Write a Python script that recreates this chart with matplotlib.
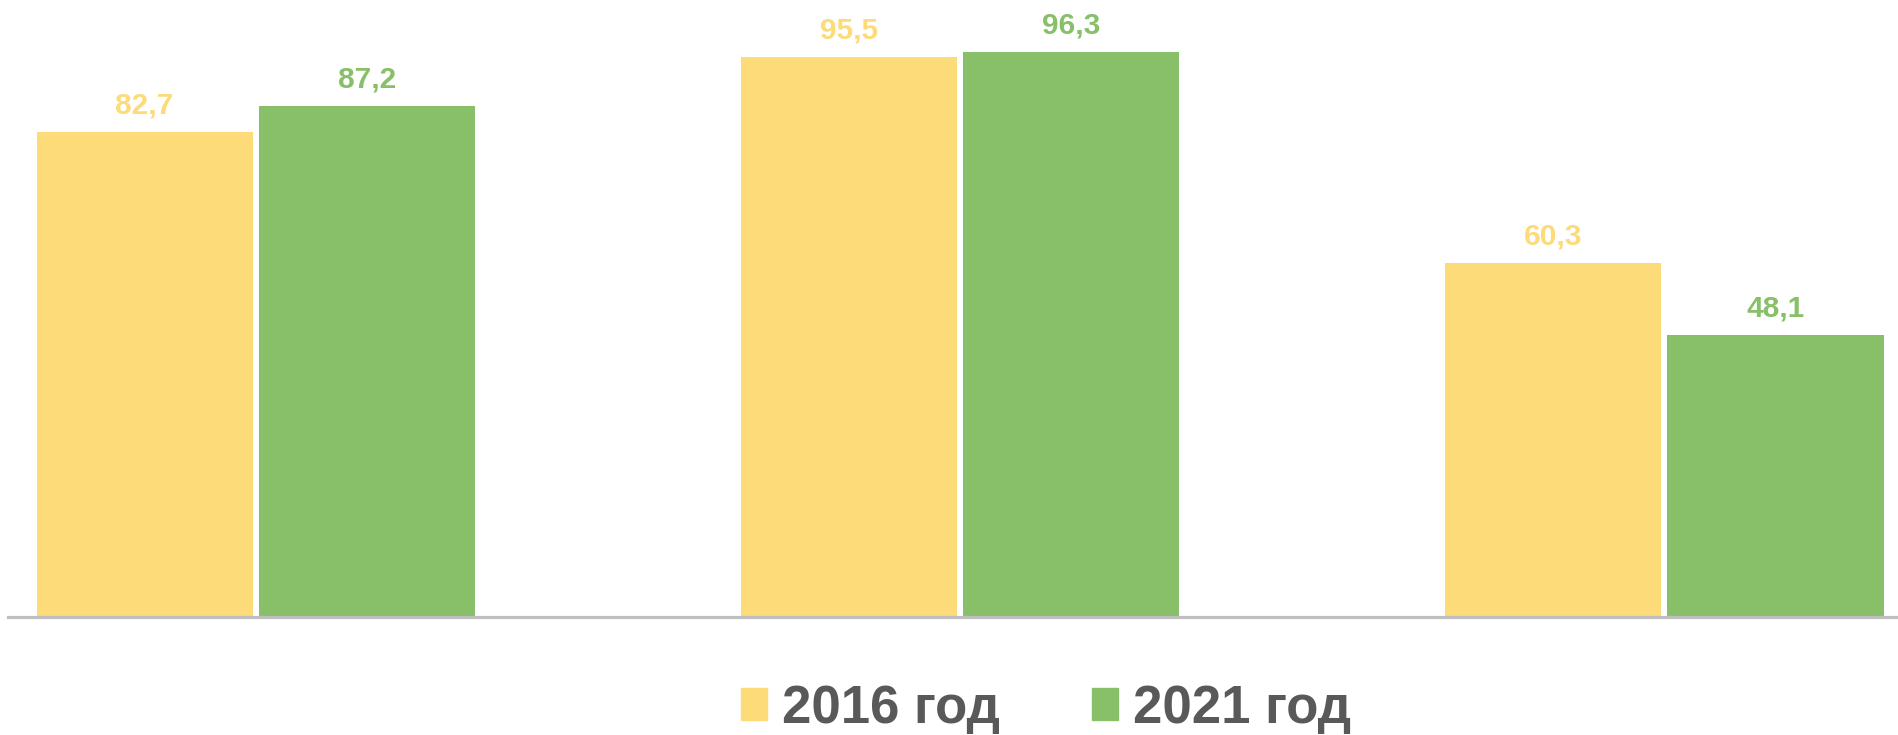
import matplotlib.pyplot as plt
from matplotlib.patches import Patch
import numpy as np

plt.rcParams['font.family'] = ['Liberation Sans', 'DejaVu Sans']

# data
groups = ['A', 'B', 'C']  # category labels are not shown on the chart
series = ['2016 год', '2021 год']
values_2016 = [82.7, 95.5, 60.3]
values_2021 = [87.2, 96.3, 48.1]

yellow = '#FCDB78'
green = '#88C06A'

fig = plt.figure(figsize=(18.98, 7.35), dpi=100)
ax = fig.add_axes([8 / 1898, 118 / 735, 1 - 8 / 1898, 617 / 735])

x = np.arange(len(groups))
w = 0.307
off = 0.158

b1 = ax.bar(x - off, values_2016, w, color=yellow, zorder=2)
b2 = ax.bar(x + off, values_2021, w, color=green, zorder=2)

def fmt(v):
    return ('%.1f' % v).replace('.', ',')

for bars, vals, col in [(b1, values_2016, yellow), (b2, values_2021, green)]:
    for rect, v in zip(bars, vals):
        ax.annotate(fmt(v), (rect.get_x() + rect.get_width() / 2, v),
                    xytext=(0, 9), textcoords='offset points',
                    ha='center', va='bottom', fontsize=21.5,
                    fontweight='bold', color=col)

ax.set_xlim(-0.352, 2.332)
ax.set_ylim(0, 105.2)
for s in ['top', 'right', 'left']:
    ax.spines[s].set_visible(False)
ax.spines['bottom'].set_color('#BFBFBF')
ax.spines['bottom'].set_linewidth(2.3)
ax.spines['bottom'].set_zorder(3)
ax.set_xticks([])
ax.set_yticks([])

handles = [Patch(color=yellow), Patch(color=green)]
fig.legend(handles, series, loc='center', bbox_to_anchor=(0.551, 0.036),
           ncol=2, frameon=False,
           prop={'size': 38, 'weight': 'bold'}, labelcolor='#595959',
           handlelength=0.5, handleheight=0.55, handletextpad=0.27,
           columnspacing=1.75, borderpad=0, borderaxespad=0)

fig.savefig('out.png', dpi=100)
